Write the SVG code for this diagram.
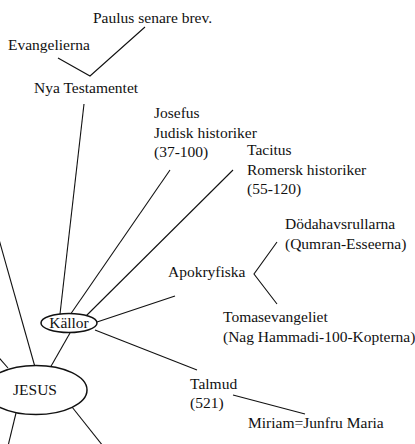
<svg xmlns="http://www.w3.org/2000/svg" width="415" height="444" viewBox="0 0 415 444">
<style>
.c line,.c polyline{stroke:#111;stroke-width:1.1;fill:none}
ellipse{fill:#fff;stroke:#111;stroke-width:1.5}
</style>
<rect width="415" height="444" fill="#fff"/>
<g class="c" id="connectors">
<polyline points="58,58 90,76 145,27"/>
<line x1="84" y1="104" x2="60" y2="314"/>
<line x1="170" y1="170" x2="70" y2="315"/>
<line x1="233" y1="170" x2="86" y2="316"/>
<line x1="175" y1="296" x2="97" y2="322"/>
<line x1="95" y1="330" x2="197" y2="370"/>
<line x1="70" y1="333" x2="50" y2="368"/>
<line x1="-2" y1="236" x2="35" y2="367"/>
<line x1="-6" y1="352" x2="8" y2="368"/>
<line x1="16" y1="413" x2="8" y2="446"/>
<line x1="72" y1="407" x2="103" y2="446"/>
<polyline points="277,242 254,274 277,304"/>
<line x1="233" y1="395" x2="305" y2="414"/>
</g>
<g id="paulus"><text x="93" y="23" font-family="Liberation Serif" font-size="15.5" fill="#111">Paulus senare brev.</text></g>
<g id="evangelierna"><text x="8" y="50" font-family="Liberation Serif" font-size="15.5" fill="#111">Evangelierna</text></g>
<g id="nt"><text x="34" y="93" font-family="Liberation Serif" font-size="15.5" fill="#111">Nya Testamentet</text></g>
<g id="josefus"><text x="154" y="118" font-family="Liberation Serif" font-size="15.5" fill="#111">Josefus</text><text x="154" y="138" font-family="Liberation Serif" font-size="15.5" fill="#111">Judisk historiker</text><text x="154" y="157" font-family="Liberation Serif" font-size="15.5" fill="#111">(37-100)</text></g>
<g id="tacitus"><text x="247" y="155" font-family="Liberation Serif" font-size="15.5" fill="#111">Tacitus</text><text x="247" y="175" font-family="Liberation Serif" font-size="15.5" fill="#111">Romersk historiker</text><text x="247" y="194" font-family="Liberation Serif" font-size="15.5" fill="#111">(55-120)</text></g>
<g id="dodahav"><text x="285" y="229" font-family="Liberation Serif" font-size="15.5" fill="#111">Dödahavsrullarna</text><text x="285" y="249" font-family="Liberation Serif" font-size="15.5" fill="#111">(Qumran-Esseerna)</text></g>
<g id="apokryfiska"><text x="168" y="277" font-family="Liberation Serif" font-size="15.5" fill="#111">Apokryfiska</text></g>
<g id="tomas"><text x="223" y="322" font-family="Liberation Serif" font-size="15.5" fill="#111">Tomasevangeliet</text><text x="223" y="342" font-family="Liberation Serif" font-size="15.5" fill="#111">(Nag Hammadi-100-Kopterna)</text></g>
<g id="kallor"><ellipse cx="69" cy="323" rx="28" ry="9.5"/><text x="69" y="328" text-anchor="middle" font-family="Liberation Serif" font-size="15.5" fill="#111">Källor</text></g>
<g id="jesus"><ellipse cx="36" cy="390" rx="51" ry="24.5"/><text x="35" y="395" text-anchor="middle" font-family="Liberation Serif" font-size="15.5" fill="#111">JESUS</text></g>
<g id="talmud"><text x="190" y="389" font-family="Liberation Serif" font-size="15.5" fill="#111">Talmud</text><text x="190" y="408" font-family="Liberation Serif" font-size="15.5" fill="#111">(521)</text></g>
<g id="miriam"><text x="248" y="428" font-family="Liberation Serif" font-size="15.5" fill="#111">Miriam=Junfru Maria</text></g>
</svg>
